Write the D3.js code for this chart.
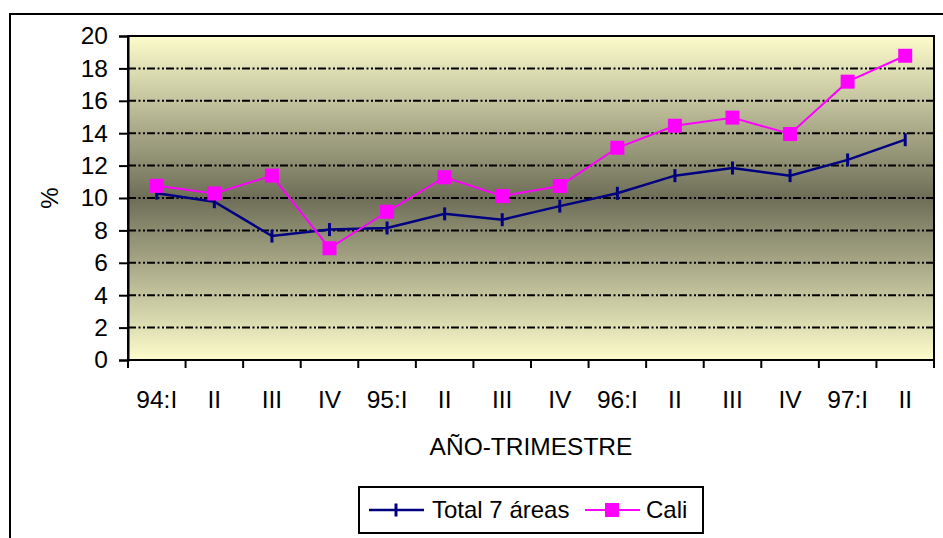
<!DOCTYPE html>
<html>
<head>
<meta charset="utf-8">
<script src="https://cdn.jsdelivr.net/npm/d3@7"></script>
<style>
	body { margin: 0; background: #fff; }
	#chart text { font-family: "Liberation Sans", Arial, sans-serif; fill: #000; }
</style>
</head>
<body>
<div id="chart"></div>
<script>
const quarters = ['94:I', 'II', 'III', 'IV', '95:I', 'II', 'III', 'IV', '96:I', 'II', 'III', 'IV', '97:I', 'II'];
const total7 = [10.3, 9.77, 7.65, 8.05, 8.15, 9.02, 8.66, 9.5, 10.29, 11.38, 11.85, 11.38, 12.35, 13.6];
const cali = [10.75, 10.28, 11.38, 6.9, 9.15, 11.28, 10.12, 10.74, 13.1, 14.46, 14.96, 13.95, 17.18, 18.78];
const yTicks = [0, 2, 4, 6, 8, 10, 12, 14, 16, 18, 20];

let dimensions = {
	width: 943,
	height: 538,
	margins: {
		top: 36,
		right: 9,
		bottom: 178,
		left: 128
	}
};

dimensions.boundedWidth = dimensions.width
	- dimensions.margins.left
	- dimensions.margins.right;

dimensions.boundedHeight = dimensions.height
	- dimensions.margins.top
	- dimensions.margins.bottom;

const svg = d3.select('#chart')
	.append('svg')
		.attr('width', dimensions.width)
		.attr('height', dimensions.height);

// outer chart frame (runs off the page on the right/bottom)
svg.append('rect')
	.attr('x', 10)
	.attr('y', 14)
	.attr('width', 960)
	.attr('height', 560)
	.attr('fill', '#fff')
	.attr('stroke', '#000')
	.attr('stroke-width', 2);

const grad = svg.append('defs')
	.append('linearGradient')
		.attr('id', 'bg')
		.attr('x1', 0).attr('y1', 0)
		.attr('x2', 0).attr('y2', 1);
grad.append('stop').attr('offset', '0%').attr('stop-color', '#fcfccc');
grad.append('stop').attr('offset', '50%').attr('stop-color', '#6e6e58');
grad.append('stop').attr('offset', '100%').attr('stop-color', '#fcfccc');

const bounds = svg.append('g')
	.attr('transform', `translate(${dimensions.margins.left},${dimensions.margins.top})`);

// scales
const xScale = d3.scaleBand()
	.domain(d3.range(quarters.length))
	.range([0, dimensions.boundedWidth]);

const yScale = d3.scaleLinear()
	.domain([0, 20])
	.range([dimensions.boundedHeight, 0]);

const xMid = i => xScale(i) + xScale.bandwidth() / 2;

bounds.append('rect')
	.attr('width', dimensions.boundedWidth)
	.attr('height', dimensions.boundedHeight)
	.attr('fill', 'url(#bg)');

// gridlines
bounds.append('g')
	.selectAll('line')
	.data(yTicks.filter(d => d > 0 && d < 20))
	.join('line')
		.attr('x1', 0)
		.attr('x2', dimensions.boundedWidth)
		.attr('y1', d => yScale(d))
		.attr('y2', d => yScale(d))
		.attr('stroke', '#000')
		.attr('stroke-width', 2)
		.attr('stroke-dasharray', '8,2.5,2,2.5,2,2');

bounds.append('rect')
	.attr('width', dimensions.boundedWidth)
	.attr('height', dimensions.boundedHeight)
	.attr('fill', 'none')
	.attr('stroke', '#000')
	.attr('stroke-width', 2);

// y axis
const yAxis = bounds.append('g')
	.call(d3.axisLeft(yScale).tickValues(yTicks).tickSize(9).tickPadding(11));
yAxis.select('.domain').attr('stroke-width', 2);
yAxis.selectAll('.tick line').attr('stroke-width', 2);
yAxis.selectAll('.tick text')
	.style('font-size', '24.5px');

bounds.append('text')
	.attr('transform', `translate(${50 - dimensions.margins.left},${dimensions.boundedHeight / 2}) rotate(-90)`)
	.attr('text-anchor', 'middle')
	.attr('dy', '0.35em')
	.style('font-size', '24px')
	.text('%');

// x axis: ticks on category boundaries
const xAxis = bounds.append('g')
	.attr('transform', `translate(0,${dimensions.boundedHeight})`);
xAxis.append('line')
	.attr('x2', dimensions.boundedWidth)
	.attr('stroke', '#000')
	.attr('stroke-width', 2);
xAxis.selectAll('.tk')
	.data(d3.range(quarters.length + 1))
	.join('line')
		.attr('class', 'tk')
		.attr('x1', d => d * xScale.bandwidth())
		.attr('x2', d => d * xScale.bandwidth())
		.attr('y2', 8)
		.attr('stroke', '#000')
		.attr('stroke-width', 2);
xAxis.selectAll('.lbl')
	.data(quarters)
	.join('text')
		.attr('class', 'lbl')
		.attr('x', (d, i) => xMid(i))
		.attr('y', 48)
		.attr('text-anchor', 'middle')
		.style('font-size', '24.5px')
		.text(d => d);

xAxis.append('text')
	.attr('x', dimensions.boundedWidth / 2)
	.attr('y', 95)
	.attr('text-anchor', 'middle')
	.style('font-size', '24.5px')
	.text('AÑO-TRIMESTRE');

// lines
const lineGenerator = d3.line()
	.x((d, i) => xMid(i))
	.y(d => yScale(d));

bounds.append('path')
	.attr('d', lineGenerator(total7))
	.attr('fill', 'none')
	.attr('stroke', '#000080')
	.attr('stroke-width', 2.5);

bounds.append('g')
	.selectAll('line')
	.data(total7)
	.join('line')
		.attr('x1', (d, i) => xMid(i))
		.attr('x2', (d, i) => xMid(i))
		.attr('y1', d => yScale(d) - 6.5)
		.attr('y2', d => yScale(d) + 6.5)
		.attr('stroke', '#000080')
		.attr('stroke-width', 3);

bounds.append('path')
	.attr('d', lineGenerator(cali))
	.attr('fill', 'none')
	.attr('stroke', '#ff00ff')
	.attr('stroke-width', 2);

bounds.append('g')
	.selectAll('rect')
	.data(cali)
	.join('rect')
		.attr('x', (d, i) => xMid(i) - 7)
		.attr('y', d => yScale(d) - 7)
		.attr('width', 14)
		.attr('height', 14)
		.attr('fill', '#ff00ff');

// legend
const legend = svg.append('g');
legend.append('rect')
	.attr('x', 359)
	.attr('y', 487)
	.attr('width', 344)
	.attr('height', 46)
	.attr('fill', '#fff')
	.attr('stroke', '#000')
	.attr('stroke-width', 2);

legend.append('line')
	.attr('x1', 369).attr('x2', 424)
	.attr('y1', 510).attr('y2', 510)
	.attr('stroke', '#000080')
	.attr('stroke-width', 2.5);
legend.append('line')
	.attr('x1', 396).attr('x2', 396)
	.attr('y1', 503.5).attr('y2', 516.5)
	.attr('stroke', '#000080')
	.attr('stroke-width', 3);
legend.append('text')
	.attr('x', 432)
	.attr('y', 510)
	.attr('dy', '0.35em')
	.style('font-size', '24px')
	.text('Total 7 áreas');

legend.append('line')
	.attr('x1', 585).attr('x2', 640)
	.attr('y1', 510).attr('y2', 510)
	.attr('stroke', '#ff00ff')
	.attr('stroke-width', 2);
legend.append('rect')
	.attr('x', 605).attr('y', 503)
	.attr('width', 14).attr('height', 14)
	.attr('fill', '#ff00ff');
legend.append('text')
	.attr('x', 646)
	.attr('y', 510)
	.attr('dy', '0.35em')
	.style('font-size', '24px')
	.text('Cali');
</script>
</body>
</html>
